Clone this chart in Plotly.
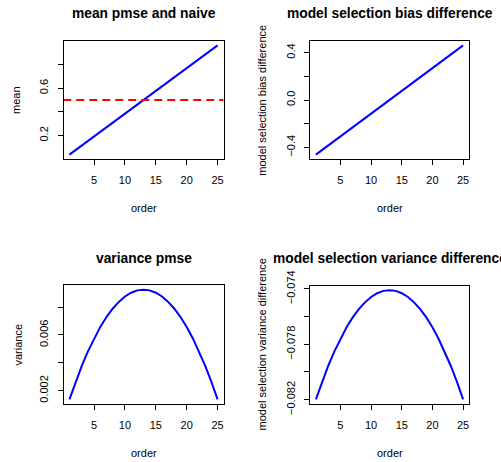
import plotly.graph_objects as go

W, H = 501, 462

order = list(range(1, 26))
mean_pmse = [0.0385, 0.0769, 0.1154, 0.1538, 0.1923, 0.2308, 0.2692, 0.3077, 0.3462,
             0.3846, 0.4231, 0.4615, 0.5000, 0.5385, 0.5769, 0.6154, 0.6538, 0.6923,
             0.7308, 0.7692, 0.8077, 0.8462, 0.8846, 0.9231, 0.9615]
naive_mean = 0.5
bias_diff = [-0.4615, -0.4231, -0.3846, -0.3462, -0.3077, -0.2692, -0.2308, -0.1923,
             -0.1538, -0.1154, -0.0769, -0.0385, 0.0, 0.0385, 0.0769, 0.1154, 0.1538,
             0.1923, 0.2308, 0.2692, 0.3077, 0.3462, 0.3846, 0.4231, 0.4615]
var_pmse = [0.00137, 0.00263, 0.00378, 0.00482, 0.00575, 0.00658, 0.00729, 0.00789,
            0.00838, 0.00877, 0.00904, 0.00921, 0.00926, 0.00921, 0.00904, 0.00877,
            0.00838, 0.00789, 0.00729, 0.00658, 0.00575, 0.00482, 0.00378, 0.00263,
            0.00137]
var_diff = [-0.08198, -0.08072, -0.07957, -0.07853, -0.07760, -0.07677, -0.07606,
            -0.07546, -0.07497, -0.07458, -0.07431, -0.07414, -0.07409, -0.07414,
            -0.07431, -0.07458, -0.07497, -0.07546, -0.07606, -0.07677, -0.07760,
            -0.07853, -0.07957, -0.08072, -0.08198]

titles = ["mean pmse and naive", "model selection bias difference",
          "variance pmse", "model selection variance difference"]
ylabels = ["mean", "model selection bias difference", "variance",
           "model selection variance difference"]
xlabel = "order"

x_ticks = [5, 10, 15, 20, 25]
y_ticks = [
    ([0.2, 0.4, 0.6, 0.8], ["0.2", "", "0.6", ""]),
    ([-0.4, -0.2, 0.0, 0.2, 0.4], ["\u22120.4", "", "0.0", "", "0.4"]),
    ([0.002, 0.004, 0.006, 0.008], ["0.002", "", "0.006", ""]),
    ([-0.082, -0.080, -0.078, -0.076, -0.074], ["\u22120.082", "", "\u22120.078", "", "\u22120.074"]),
]

# panel boxes in pixels: (left, right, top, bottom)
boxes = [(63.5, 223.5, 41, 159), (310, 469, 41, 159),
         (63.5, 223.5, 285.3, 403.7), (310, 469, 285.8, 403.7)]
ylab_x = [16, 261.7, 17, 261.7]

FONT = "Liberation Sans, Arial, Helvetica, sans-serif"
series = [mean_pmse, bias_diff, var_pmse, var_diff]

def pad_range(vals, frac=0.04):
    lo, hi = min(vals), max(vals)
    d = (hi - lo) * frac
    return [lo - d, hi + d]

fig = go.Figure()
annotations = []
for i, (vals, box) in enumerate(zip(series, boxes)):
    n = "" if i == 0 else str(i + 1)
    xa, ya = "x" + n, "y" + n
    fig.add_trace(go.Scatter(x=order, y=vals, mode="lines", xaxis=xa, yaxis=ya,
                             line=dict(color="#0000ff", width=2), showlegend=False,
                             hoverinfo="skip"))
    if i == 0:
        fig.add_trace(go.Scatter(x=[min(order) - 1, max(order) + 1],
                                 y=[naive_mean, naive_mean], mode="lines",
                                 xaxis=xa, yaxis=ya,
                                 line=dict(color="#ff0000", width=2, dash="8px,5px"),
                                 showlegend=False, hoverinfo="skip"))
    l, r, t, b = box
    xr = pad_range(order)
    yr = pad_range(vals)
    common = dict(showline=True, linecolor="black", linewidth=1, mirror=True,
                  ticks="outside", ticklen=5, tickwidth=1, tickcolor="black",
                  showgrid=False, zeroline=False, automargin=False,
                  tickfont=dict(family=FONT, size=11, color="black"))
    fig.layout["xaxis" + n] = dict(domain=[l / W, r / W], range=xr, anchor=ya,
                                   tickvals=x_ticks, ticklabelstandoff=6, **common)
    tv, tt = y_ticks[i]
    fig.layout["yaxis" + n] = dict(domain=[1 - b / H, 1 - t / H], range=yr, anchor=xa,
                                   tickvals=tv, ticktext=tt, tickangle=-90,
                                   ticklabelstandoff=5, **common)
    cx = (l + r) / 2
    cy = (t + b) / 2
    annotations.append(dict(text="<b>%s</b>" % titles[i], x=cx / W, y=1 - (t - 27) / H,
                            xref="paper", yref="paper", showarrow=False,
                            xanchor="center", yanchor="middle",
                            font=dict(family=FONT, size=13.8, color="black")))
    annotations.append(dict(text=xlabel, x=cx / W, y=1 - (b + 49) / H,
                            xref="paper", yref="paper", showarrow=False,
                            xanchor="center", yanchor="middle",
                            font=dict(family=FONT, size=11, color="black")))
    annotations.append(dict(text=ylabels[i], x=ylab_x[i] / W, y=1 - cy / H,
                            xref="paper", yref="paper", showarrow=False, textangle=-90,
                            xanchor="center", yanchor="middle",
                            font=dict(family=FONT, size=11, color="black")))

fig.update_layout(template="none", width=W, height=H,
                  margin=dict(l=0, r=0, t=0, b=0, pad=0),
                  paper_bgcolor="white", plot_bgcolor="white",
                  annotations=annotations)

fig.write_html("out.html", config={"displayModeBar": False})
